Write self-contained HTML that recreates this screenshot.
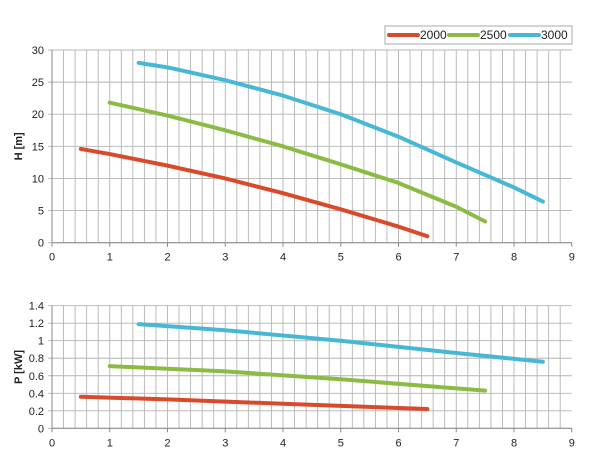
<!DOCTYPE html><html><head><meta charset="utf-8"><style>
body{margin:0;background:#fff;}
text{font-family:"Liberation Sans",sans-serif;font-size:11px;fill:#222;}
</style></head><body>
<svg id="s" width="600" height="462" xmlns="http://www.w3.org/2000/svg"></svg>
<script>
const s=document.getElementById('s');let h='';
const X=v=>52+v*57.75;
function chart(y0,y1,ymax,ystep,ylabels,series,label){
  const Y=v=>y1-(v/ymax)*(y1-y0);
  for(let i=1;i<45;i++){const x=X(i*0.2);h+=`<line x1="${x}" y1="${y0}" x2="${x}" y2="${y1}" stroke="#b4b4b4" stroke-width="0.9"/>`;}
  for(let k=0;k<=ymax/ystep+0.01;k++){const v=k*ystep,y=Y(v);h+=`<line x1="48" y1="${y}" x2="${X(9)}" y2="${y}" stroke="#b4b4b4" stroke-width="0.9"/>`;
    h+=`<text x="44" y="${y+4}" text-anchor="end">${ylabels(v)}</text>`;}
  h+=`<line x1="52" y1="${y0}" x2="52" y2="${y1}" stroke="#888"/><line x1="52" y1="${y1}" x2="${X(9)}" y2="${y1}" stroke="#888"/>`;
  for(let i=0;i<=9;i++){h+=`<line x1="${X(i)}" y1="${y1}" x2="${X(i)}" y2="${y1+4}" stroke="#888"/><text x="${X(i)}" y="${y1+18}" text-anchor="middle">${i}</text>`;}
  h+=`<text transform="translate(22,${(y0+y1)/2}) rotate(-90)" text-anchor="middle" style="font-weight:bold;font-size:11px">${label}</text>`;
  for(const [c,pts] of series){h+=`<polyline fill="none" stroke="${c}" stroke-width="4" stroke-linecap="round" stroke-linejoin="round" points="${pts.map(p=>X(p[0])+','+Y(p[1])).join(' ')}"/>`;}
}
chart(50,242.7,30,5,v=>v,[
 ['#d94a2a',[[0.5,14.6],[1,13.8],[2,12],[3,10],[4,7.7],[5,5.2],[6,2.5],[6.5,1.0]]],
 ['#8cbb44',[[1,21.8],[2,19.8],[3,17.5],[4,15],[5,12.2],[6,9.3],[7,5.6],[7.5,3.3]]],
 ['#46b8d6',[[1.5,28],[2,27.3],[3,25.3],[4,22.9],[5,20],[6,16.5],[7,12.5],[8,8.6],[8.5,6.4]]]
],'H [m]');
chart(305.7,428.3,1.4,0.2,v=>+v.toFixed(1),[
 ['#d94a2a',[[0.5,0.36],[2,0.33],[4,0.28],[6.5,0.22]]],
 ['#8cbb44',[[1,0.71],[3,0.65],[5,0.56],[7.5,0.43]]],
 ['#46b8d6',[[1.5,1.19],[3,1.12],[5,1.0],[6,0.93],[7,0.86],[8.5,0.76]]]
],'P [kW]');
h+=`<rect x="385" y="26" width="187" height="18" fill="#fff" stroke="#aaa"/>`;
[['#d94a2a','2000',389],['#8cbb44','2500',449],['#46b8d6','3000',510]].forEach(([c,t,x])=>{
 h+=`<line x1="${x}" y1="35" x2="${x+29}" y2="35" stroke="${c}" stroke-width="4" stroke-linecap="round"/><text x="${x+31}" y="39" style="font-size:12px">${t}</text>`;});
s.innerHTML=h;
</script>
</body></html>
